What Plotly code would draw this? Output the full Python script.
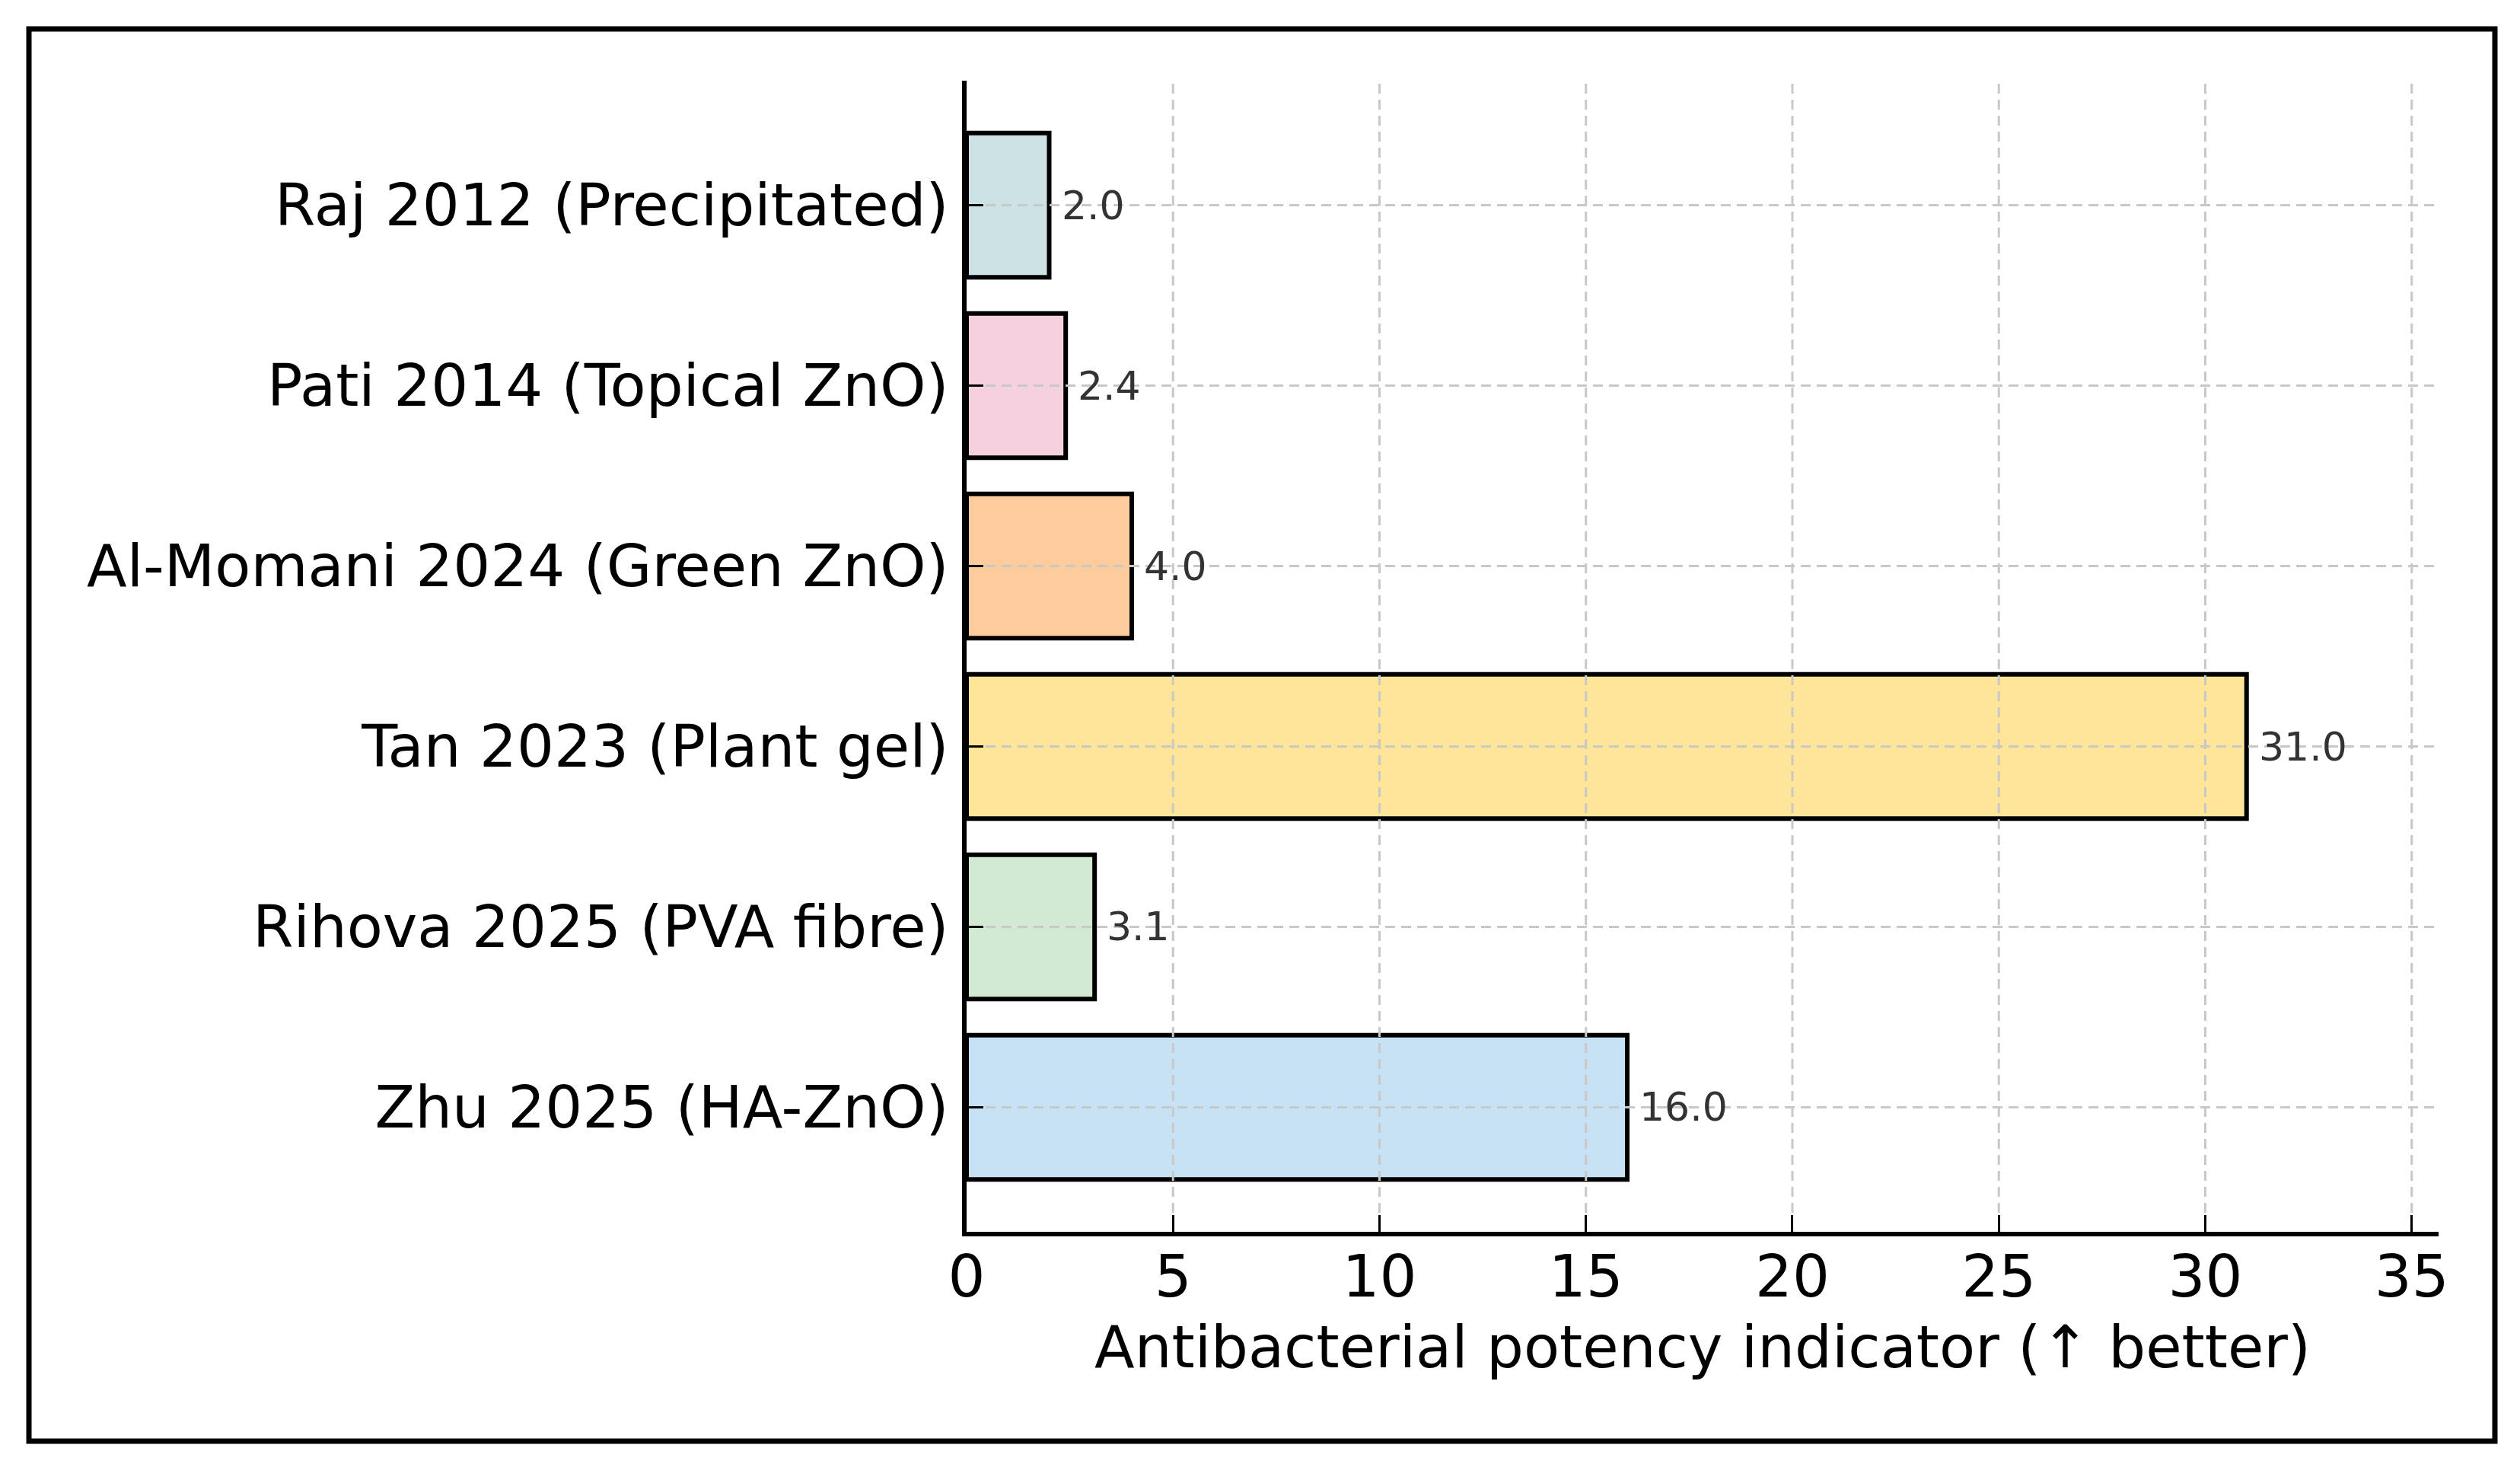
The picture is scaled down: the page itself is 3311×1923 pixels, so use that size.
import plotly.graph_objects as go

categories = [
    "Raj 2012 (Precipitated)",
    "Pati 2014 (Topical ZnO)",
    "Al-Momani 2024 (Green ZnO)",
    "Tan 2023 (Plant gel)",
    "Rihova 2025 (PVA fibre)",
    "Zhu 2025 (HA-ZnO)",
]
values = [2.0, 2.4, 4.0, 31.0, 3.1, 16.0]
bar_colors = ["#cce2e5", "#f5d0de", "#fdcb9c", "#fee597", "#d1ead1", "#c7e2f4"]
x_ticks = [0, 5, 10, 15, 20, 25, 30, 35]
x_title = "Antibacterial potency indicator (↑ better)"

# page is 3311x1923; the html body has an 8px margin, so the figure is shrunk
OFF = 8
W, H = 3311 - 2 * OFF, 1923 - 2 * OFF
FONT = "DejaVu Sans"
FS = 77
TICKLEN = 22

PX_L, PX_R, PX_T, PX_B = 1270, 3204, 106, 1618


def fx(px):
    return (px - OFF) / W


def fy(py):
    return 1 - (py - OFF) / H


x_max = max(values) * 1.15
n = len(categories)
y_range = [n - 1 + 0.4 + 0.29, -0.4 - 0.29]

fig = go.Figure()
fig.add_trace(go.Bar(
    x=values, y=categories, orientation="h", width=0.8,
    marker=dict(color=bar_colors, line=dict(color="black", width=6)),
    hoverinfo="skip",
))

# value labels
for c, v in zip(categories, values):
    fig.add_annotation(
        x=v, y=c, xref="x", yref="y", text=f"{v:.1f}", showarrow=False,
        xanchor="left", yanchor="middle", xshift=14,
        font=dict(family=FONT, size=52, color="#333333"),
    )

# gridlines drawn above bars (dashed), leaving the inside tick marks visible
grid_style = dict(color="#c8c8c8", width=3, dash="13px,8px")
gy0 = (TICKLEN + 3) / (PX_B - PX_T)
gx0 = (TICKLEN + 3) / (PX_R - PX_L)
for t in x_ticks:
    if t <= 0:
        continue
    fig.add_shape(type="line", xref="x", yref="y domain", x0=t, x1=t, y0=gy0, y1=1,
                  line=grid_style, layer="above")
for c in categories:
    fig.add_shape(type="line", xref="x domain", yref="y", x0=gx0, x1=1, y0=c, y1=c,
                  line=grid_style, layer="above")

# outer frame
fig.add_shape(type="rect", xref="paper", yref="paper",
              x0=fx(38), x1=fx(3278), y0=fy(1893), y1=fy(38),
              line=dict(color="black", width=7), fillcolor="rgba(0,0,0,0)", layer="above")

fig.update_layout(
    width=W, height=H,
    margin=dict(l=0, r=0, t=0, b=0),
    paper_bgcolor="white", plot_bgcolor="white",
    showlegend=False,
    font=dict(family=FONT, size=FS, color="black"),
    bargap=0.2,
)
fig.update_xaxes(
    domain=[fx(PX_L), fx(PX_R)],
    range=[0, x_max], tickmode="array", tickvals=x_ticks,
    ticktext=[str(t) for t in x_ticks],
    showgrid=False, zeroline=False,
    showline=True, linecolor="black", linewidth=6,
    ticks="inside", ticklen=TICKLEN, tickwidth=3, tickcolor="black",
    tickfont=dict(family=FONT, size=FS, color="black"),
    ticklabelstandoff=-13,
    title=dict(text=x_title, font=dict(family=FONT, size=FS, color="black"), standoff=24),
    layer="above traces", automargin=False,
)
fig.update_yaxes(
    domain=[fy(PX_B), fy(PX_T)],
    type="category", categoryorder="array", categoryarray=categories,
    range=y_range,
    showgrid=False, zeroline=False,
    showline=True, linecolor="black", linewidth=6,
    ticks="inside", ticklen=TICKLEN, tickwidth=3, tickcolor="black",
    tickfont=dict(family=FONT, size=FS, color="black"),
    ticklabelstandoff=2,
    layer="above traces", automargin=False,
)

fig.write_html("out.html")
